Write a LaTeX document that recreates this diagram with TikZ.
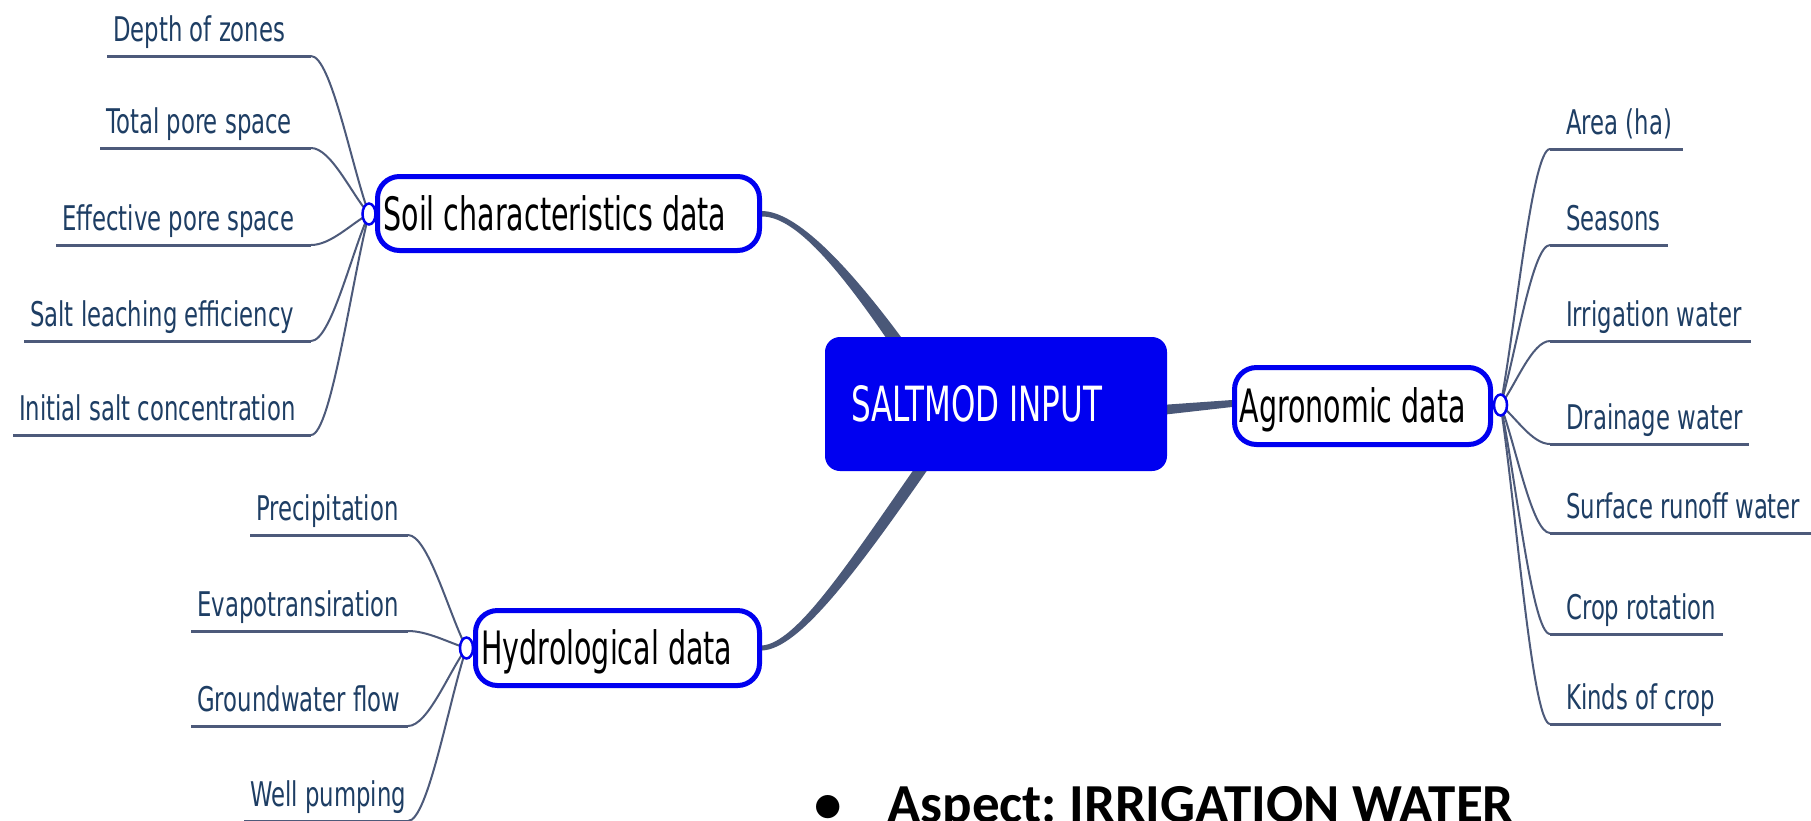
\documentclass[tikz,border=0pt]{standalone}
\usepackage{fontspec}
\usetikzlibrary{calc,shapes.geometric}

% condensed sans faces for the map, Carlito for the slide note
\newfontfamily\leaffont[FakeStretch=0.67]{DejaVu Sans}
\newfontfamily\boxfont[FakeStretch=0.62]{DejaVu Sans}
\newfontfamily\corefont[FakeStretch=0.64]{DejaVu Sans}
\newfontfamily\notefont{Carlito}

% use the font's own word space inside the fixed-width boxes
\newcommand\fontspaces{\spaceskip=0pt\xspaceskip=0pt\relax}

\definecolor{mapblue}{RGB}{0,0,240}
\definecolor{twiggray}{RGB}{77,90,122}
\definecolor{trunkgray}{RGB}{74,88,120}
\definecolor{leafink}{RGB}{30,62,100}

\pgfdeclarelayer{paper}
\pgfdeclarelayer{background}
\pgfsetlayers{paper,background,main}

\tikzset{
  leaf/.style={anchor=base west, inner sep=0pt, text=leafink,
    font=\leaffont\fontsize{34}{40}\selectfont},
  twig/.style={draw=twiggray, line width=2pt},
  underline/.style={draw=twiggray, line width=3pt},
  hubdot/.style={ellipse, draw=mapblue, fill=white, line width=2.5pt,
    minimum width=13pt, minimum height=21pt, inner sep=0pt},
  branchbox/.style={draw=mapblue, fill=white, line width=5pt, rounded corners=22pt,
    align=left, inner ysep=0pt, font=\boxfont\fontsize{46}{52}\selectfont,
    text height=33.5pt, text depth=0pt},
  corebox/.style={fill=mapblue, rounded corners=15pt, text=white, align=left,
    text width=290pt, inner xsep=26pt, inner ysep=0pt, minimum height=134pt,
    font=\corefont\fontsize{48.5}{54}\selectfont, text height=35pt, text depth=0pt},
  trunk/.style={fill=trunkgray},
  note/.style={anchor=base west, inner sep=0pt, text=black,
    font=\notefont\bfseries\fontsize{55}{60}\selectfont\frenchspacing}
}

% leaf on the left of its hub: name, hub, text, line start x, line y, tip x
\newcommand\leafwest[6]{%
  \coordinate (#1-tail) at (#4,#5);
  \coordinate (#1-end) at (#6,#5);
  \node[leaf] (#1) at (#4+6,#5-15) {#3};
  \begin{pgfonlayer}{background}
    \draw[underline] (#1-tail) -- (#1-end);
    \draw[twig] (#2.center) .. controls ($(#2.center)!0.3!(#1-end)$) and ($(#1-end)+(20,0)$) .. (#1-end);
  \end{pgfonlayer}}

% leaf on the right of its hub: name, hub, text, tip x, line y, line end x
\newcommand\leafeast[6]{%
  \coordinate (#1-end) at (#4,#5);
  \coordinate (#1-tail) at (#6,#5);
  \node[leaf] (#1) at (#4+16,#5-15) {#3};
  \begin{pgfonlayer}{background}
    \draw[underline] (#1-end) -- (#1-tail);
    \draw[twig] (#2.center) .. controls ($(#2.center)!0.3!(#1-end)$) and ($(#1-end)+(-18,0)$) .. (#1-end);
  \end{pgfonlayer}}

\begin{document}
\begin{tikzpicture}[x=1pt,y=-1pt]
\useasboundingbox (0,0) rectangle (1811,820);
\clip (0,0) rectangle (1811,820);
\begin{pgfonlayer}{paper}
  \fill[white] (0,0) rectangle (1811,820);
\end{pgfonlayer}

% central topic and the three branches
\node[corebox] (core) at (996,404) {\fontspaces SALTMOD INPUT};
\node[branchbox, text width=370pt, inner xsep=6pt, minimum height=74pt] (soil) at (568.5,213.5) {\fontspaces Soil characteristics data};
\node[branchbox, text width=246pt, inner xsep=5pt, minimum height=77pt] (agro) at (1362.5,406) {\fontspaces Agronomic data};
\node[branchbox, text width=272pt, inner xsep=6pt, minimum height=75pt] (hydro) at (617.5,648) {\fontspaces Hydrological data};

% fold-out hubs
\node[hubdot] (soilhub) at (369,214) {};
\node[hubdot] (agrohub) at (1500.5,405) {};
\node[hubdot] (hydrohub) at (466.5,648) {};

% tapered trunks from the centre to the branches
\begin{pgfonlayer}{background}
  \fill[trunk] ($(soil.east)+(0,-2.5)$) .. controls ($(soil.east)+(30,-2)$) and ($(core.north west)+(13,-86)$) .. ($(core.north west)+(82,8)$)
    -- ($(core.north west)+(66,8)$) .. controls ($(core.north west)+(7,-79)$) and ($(soil.east)+(30,3)$) .. ($(soil.east)+(0,3)$) -- cycle;
  \fill[trunk] ($(hydro.east)+(0,-2.5)$) .. controls ($(hydro.east)+(34,-5)$) and ($(core.south west)+(21,96)$) .. ($(core.south west)+(94,-9)$)
    -- ($(core.south west)+(108,-9)$) .. controls ($(core.south west)+(31,102)$) and ($(hydro.east)+(37,1)$) .. ($(hydro.east)+(0,2.5)$) -- cycle;
  \fill[trunk] ($(core.east)+(-6,1)$) -- ($(agro.west)+(0,-6)$) -- ($(agro.west)+(0,1)$) -- ($(core.east)+(-6,11)$) -- cycle;
\end{pgfonlayer}

% soil characteristics
\leafwest{depth}{soilhub}{Depth of zones}{107}{56}{311}
\leafwest{total}{soilhub}{Total pore space}{100}{148}{311}
\leafwest{effective}{soilhub}{Effective pore space}{56}{245}{311}
\leafwest{leaching}{soilhub}{Salt leaching efficiency}{24}{341}{311}
\leafwest{initial}{soilhub}{Initial salt concentration}{13}{435}{311}

% hydrology
\leafwest{precip}{hydrohub}{Precipitation}{250}{535}{408}
\leafwest{evapo}{hydrohub}{Evapotransiration}{191}{631}{408}
\leafwest{ground}{hydrohub}{Groundwater flow}{191}{726}{408}
\leafwest{well}{hydrohub}{Well pumping}{244}{821}{408}

% agronomy
\leafeast{area}{agrohub}{Area (ha)}{1550}{149}{1683}
\leafeast{seasons}{agrohub}{Seasons}{1550}{245}{1668}
\leafeast{irrigation}{agrohub}{Irrigation water}{1550}{341}{1751}
\leafeast{drainage}{agrohub}{Drainage water}{1550}{444}{1749}
\leafeast{runoff}{agrohub}{Surface runoff water}{1550}{533}{1815}
\leafeast{rotation}{agrohub}{Crop rotation}{1550}{634}{1723}
\leafeast{kinds}{agrohub}{Kinds of crop}{1550}{724}{1721}

% slide bullet below the map
\node[note] (bullet) at (814,822) {•};
\node[note] (aspect) at (887,822) {Aspect: IRRIGATION WATER};
\end{tikzpicture}
\end{document}
